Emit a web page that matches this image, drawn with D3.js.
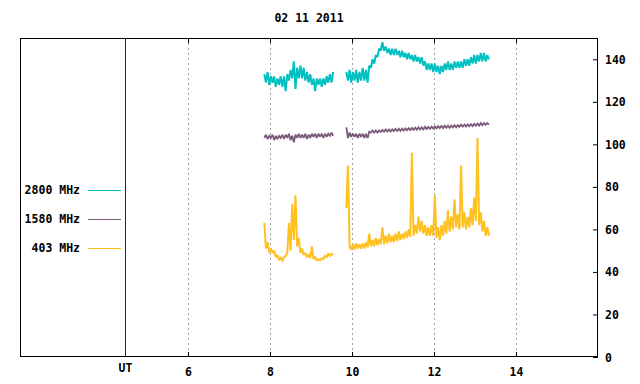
<!DOCTYPE html>
<html><head><meta charset="utf-8">
<script src="https://cdn.jsdelivr.net/npm/d3@7/dist/d3.min.js"></script>
<style>body{margin:0;background:#fff}svg{display:block}text{font-family:"DejaVu Sans Mono",monospace;font-weight:bold;font-size:11.5px;fill:#000}</style>
</head><body><svg id="c" width="640" height="384"></svg>
<script>
const title = "02 11 2011";
const xTicks = [6, 8, 10, 12, 14];
const yTicks = [0, 20, 40, 60, 80, 100, 120, 140];
const seriesNames = ["2800 MHz", "1580 MHz", "403 MHz"];
const seriesColors = ["#00c0c0", "#7a5a7a", "#ffc020"];
const utHour = 4.46;
// sampling: segment 1 starts 7.86 h, segment 2 starts 9.86 h, 0.04 h per sample
const seg1Start = 7.86, seg2Start = 9.86, sampleStep = 0.04;

const s2800a = [133,129,134,128,132,129,132,127,131,128,132,127,132,125,133,130,135,131,139,126,136,131,137,131,136,130,134,129,133,128,131,125,131,128,131,127,131,128,132,129,133,129,134];
const s2800b = [134,130,135,129,134,130,135,129,134,130,136,130,135,129,137,136,140,138,142,141,145,144,148,144,146,143,145,142,145,142,145,142,144,141,144,141,143,140,143,140,142,139,142,139,141,138,141,137,139,135,138,135,138,134,138,134,137,133,137,134,138,135,139,135,138,135,139,136,139,136,139,136,140,137,140,137,141,138,142,138,142,139,143,139,143,139,142,140];
const s1580a = [103,104.5,102.5,104,103,104.5,102,104,102.5,104,103,104.5,102.5,104.5,103,105,102,104,101,104.5,103,105,103,104.5,103,105,102.5,104.5,103,105,103.5,105,103,105,103.5,105,103,105,103.5,105,104,105.5,104];
const s1580b = [108,103,105.5,103.5,105,103.5,105,103,105,103.5,105,103,105,103,106,105.5,106.5,105.5,106.5,105.5,106.5,105.8,106.8,106,107,106,107,106,107,106.2,107.2,106.3,107.3,106.3,107.4,106.5,107.5,106.6,107.6,106.7,107.7,106.8,107.8,106.9,108,107,108,107,108.2,107.2,108.2,107.3,108.3,107.4,108.4,107.5,108.5,107.6,108.6,107.6,108.7,107.8,108.8,107.8,108.8,108,109,108,109,108.2,109.2,108.3,109.3,108.4,109.4,108.5,109.5,108.6,109.6,108.7,109.8,108.8,110,109,110,109.2,110,109.3];
const s403a = [63,51,54,49,51,49,50,47,48,45.5,47,45,47,47.5,49,63,50,72,55,76,52,56,49,51,48,49,47,48,46.5,52,46,47,45.5,46,45.5,46.5,46,47.5,47,48.5,47.5,48.5,48];
const s403b = [70,90,52,50.5,53,50.5,53.5,51,53,51,53.5,51,54,51.5,58,52,55,52,56,52.5,55.5,53,61,53,57,53.5,58,54,57,54,58,54.5,59,55,58,55.5,59,56,60,56.5,96,57,62,58,66,59,64,58,62,57,61,57,62,57,76,56,61,55,62,57,64,58,69,59,66,60,74,61,67,60,90,61,68,60,66,61,70,62,75,64,103,62,68,59,64,57,61,57];

const svg = d3.select("#c");
const L = 20, R = 598, T = 38, B = 357;
const x = d3.scaleLinear().domain([1.9, 16]).range([L, R]);
const y = d3.scaleLinear().domain([0, 150]).range([B, T]);

// grid
svg.append("g").selectAll("line").data(xTicks).join("line")
  .attr("x1", d => Math.round(x(d)) + 0.5).attr("x2", d => Math.round(x(d)) + 0.5)
  .attr("y1", T).attr("y2", B)
  .attr("stroke", "#a0a0a0").attr("stroke-dasharray", "2,3");

// UT line
svg.append("line").attr("x1", Math.round(x(utHour)) + 0.5).attr("x2", Math.round(x(utHour)) + 0.5)
  .attr("y1", T).attr("y2", B).attr("stroke", "#800000");

// frame
svg.append("rect").attr("x", L + 0.5).attr("y", T + 0.5).attr("width", R - L - 1).attr("height", B - T - 1)
  .attr("fill", "none").attr("stroke", "#000");

// x ticks (bottom and top)
const gx = svg.append("g");
xTicks.forEach(d => {
  const px = Math.round(x(d)) + 0.5;
  gx.append("line").attr("x1", px).attr("x2", px).attr("y1", B).attr("y2", B - 5).attr("stroke", "#000");
  gx.append("line").attr("x1", px).attr("x2", px).attr("y1", T).attr("y2", T + 5).attr("stroke", "#000");
  gx.append("text").attr("x", px).attr("y", 376).attr("text-anchor", "middle").text(d);
});
svg.append("text").attr("x", Math.round(x(utHour)) + 0.5).attr("y", 372).attr("text-anchor", "middle").text("UT");

// y axis on right
const yAxis = d3.axisRight(y).tickValues(yTicks).tickSize(0).tickPadding(7);
const gy = svg.append("g").attr("transform", `translate(${R},0)`).call(yAxis);
gy.select(".domain").remove();
gy.selectAll("text").attr("font-family", null).attr("font-size", null).attr("dy", "0.35em");
gy.selectAll(".tick").append("line").attr("x1", -5).attr("x2", 0).attr("stroke", "#000");

// series
const line = d3.line().x(d => x(d[0])).y(d => y(d[1]));
function seg(vals, start) { return vals.map((v, i) => [start + i * sampleStep, v]); }
const data = [
  [s2800a, s2800b], [s1580a, s1580b], [s403a, s403b]
];
const widths = [2, 1.8, 2];
data.forEach((segs, k) => {
  [[segs[0], seg1Start], [segs[1], seg2Start]].forEach(([vals, st]) => {
    svg.append("path").attr("d", line(seg(vals, st))).attr("fill", "none")
      .attr("stroke", seriesColors[k]).attr("stroke-width", widths[k]).attr("stroke-linejoin", "miter").attr("stroke-miterlimit", 2);
  });
});

// legend
seriesNames.forEach((n, k) => {
  const ly = 190 + k * 29;
  svg.append("text").attr("x", 80).attr("y", ly).attr("dy", "0.35em").attr("text-anchor", "end").text(n);
  svg.append("line").attr("x1", 88).attr("x2", 121).attr("y1", ly + 0.5).attr("y2", ly + 0.5).attr("stroke", seriesColors[k]);
});

// title
svg.append("text").attr("x", 309).attr("y", 18).attr("dy", "0.35em").attr("text-anchor", "middle").text(title);
</script></body></html>
